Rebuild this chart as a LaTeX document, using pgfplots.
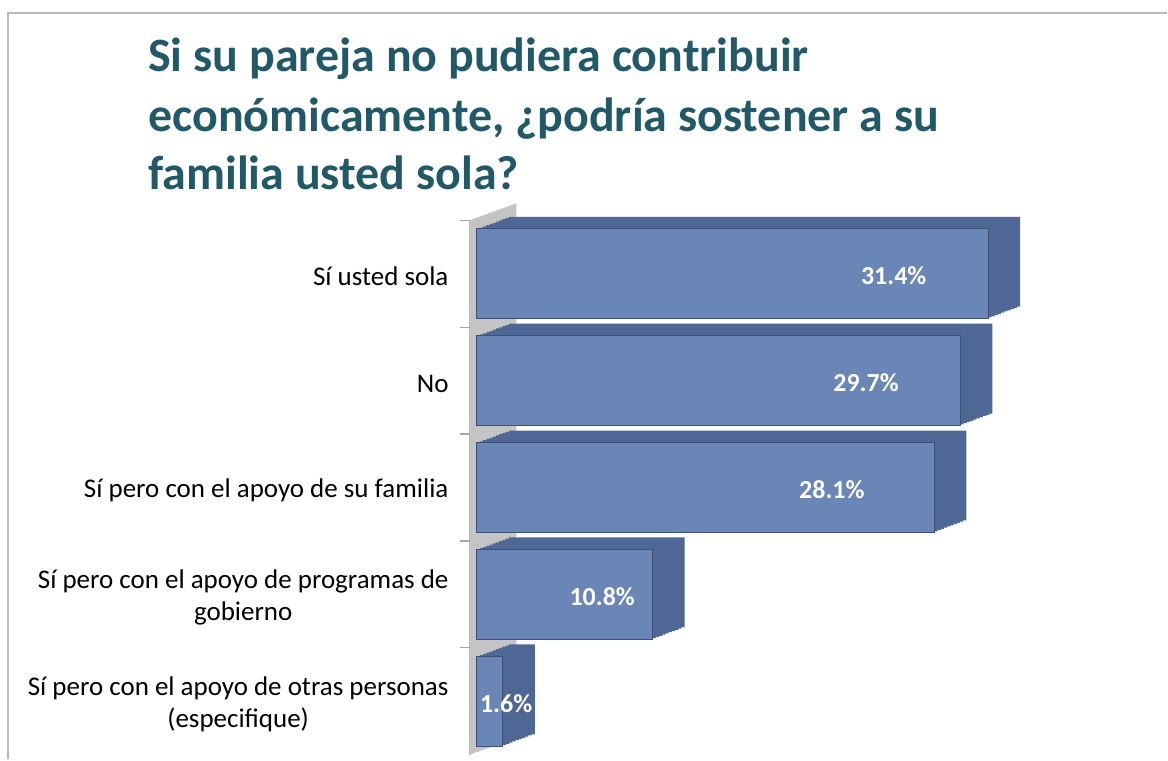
\documentclass[border=0pt]{standalone}
\usepackage{pgfplots}
\pgfplotsset{compat=1.18}
\usepackage{pgfplotstable}
\usepackage{fontspec}
\setmainfont{Carlito}
\definecolor{titlec}{HTML}{215968}
\definecolor{barfront}{HTML}{6A86B6}
\definecolor{barside}{HTML}{4F6795}
\definecolor{baredge}{HTML}{3F5078}
\definecolor{wallc}{HTML}{C4C4C4}
\pgfplotstableread{
c v lx
0 31.4 25.6
1 29.7 23.9
2 28.1 21.8
3 10.8 7.7
4 1.6 1.8
}\datatable
\begin{document}
\begin{tikzpicture}
\path (0,0) rectangle (584pt,380pt);
\draw[gray!55, line width=1.2pt] (4pt,0) -- (4pt,373.5pt) -- (584pt,373.5pt);
\begin{scope}[every node/.style={anchor=base west, inner sep=0pt, text=titlec, font=\fontsize{24}{28}\selectfont\bfseries}]
\node at (74pt,344pt) {Si su pareja no pudiera contribuir};
\node at (74pt,314pt) {económicamente, ¿podría sostener a su};
\node at (74pt,285pt) {familia usted sola?};
\end{scope}
\begin{axis}[
  at={(235pt,2.25pt)}, anchor=south west, scale only axis,
  width=329.7pt, height=267.5pt,
  xmin=-0.45, xmax=40, ymin=-0.5, ymax=4.5, y dir=reverse,
  axis x line=none, axis y line*=left,
  axis line style={gray!60, line width=1pt},
  /pgf/number format/assume math mode=true,
  ytick={0,1,2,3,4},
  yticklabels={Sí usted sola, No, Sí pero con el apoyo de su familia, {Sí pero con el apoyo de programas de\\gobierno}, {Sí pero con el apoyo de otras personas\\(especifique)}},
  major tick length=0pt,
  yticklabel style={align=center, font=\fontsize{13.5}{16}\selectfont, anchor=east, xshift=-7pt, yshift=-1.5pt},
  extra y ticks={-0.5,0.5,1.5,2.5,3.5},
  extra y tick labels={},
  extra y tick style={major tick length=5pt, tick align=outside, tick style={gray!70, line width=0.6pt}},
  clip=false,
]
% wall
\fill[wallc] (axis cs:-0.45,4.5) -- (axis cs:-0.45,-0.5) -- ([shift={(23.5pt,8.5pt)}]axis cs:-0.45,-0.5) -- ([shift={(23.5pt,8.5pt)}]axis cs:-0.45,4.5) -- cycle;
% extrusion layers
\pgfplotsinvokeforeach{10,9,8,7,6,5,4,3,2,1}{
  \addplot[xbar, bar width=45pt, bar shift=0pt, fill=barside, draw=none, xshift={#1*1.6pt}, yshift={#1*0.6pt}, forget plot] table[x=v,y=c]{\datatable};
}
\addplot[xbar, bar width=45pt, bar shift=0pt, fill=barfront, draw=baredge, line width=0.6pt] table[x=v,y=c]{\datatable};
\addplot[draw=none, mark=none, point meta=\thisrow{v},
  nodes near coords={\pgfmathprintnumber[fixed,precision=1,fixed zerofill,assume math mode=true]{\pgfplotspointmeta}\%},
  nodes near coords style={anchor=center, text=white, font=\fontsize{13}{15}\selectfont\bfseries, yshift=-1pt}]
  table[x=lx,y=c]{\datatable};
\end{axis}
\end{tikzpicture}
\end{document}
